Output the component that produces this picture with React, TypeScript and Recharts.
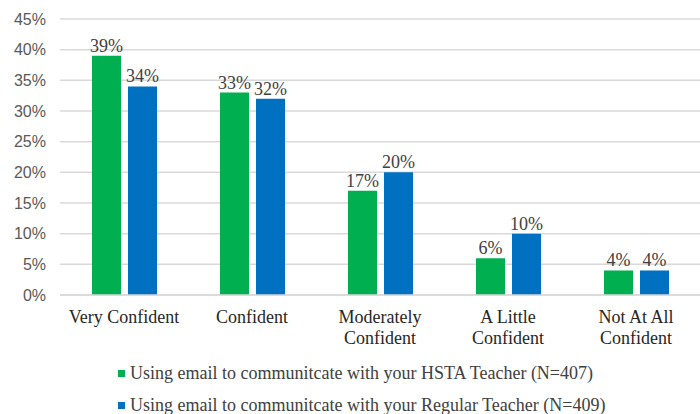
import { BarChart, Bar, XAxis, YAxis, CartesianGrid, LabelList, Legend } from 'recharts'

const categories = ['Very Confident', 'Confident', 'Moderately\nConfident', 'A Little\nConfident', 'Not At All\nConfident']
const hstaValues = [39, 33, 17, 6, 4]
const regularValues = [34, 32, 20, 10, 4]
const yTicks = [0, 5, 10, 15, 20, 25, 30, 35, 40, 45]
const seriesNames = [
  'Using email to communitcate with your HSTA Teacher (N=407)',
  'Using email to communitcate with your Regular Teacher (N=409)',
]

const GREEN = '#00b050'
const BLUE = '#0070c0'
const SERIF = 'Liberation Serif, DejaVu Serif, serif'

const data = categories.map((c, i) => ({
  name: c,
  hsta: hstaValues[i],
  regular: regularValues[i],
}))

// category labels can wrap onto two lines
function CategoryTick({ x, y, payload }: any) {
  const lines = String(payload.value).split('\n')
  return (
    <text x={x} y={y} textAnchor="middle" fill="#262626" fontSize={18} style={{ fontFamily: SERIF }}>
      {lines.map((ln, i) => (
        <tspan key={i} x={x} dy={i === 0 ? 20 : 21}>{ln}</tspan>
      ))}
    </text>
  )
}

function LegendBox() {
  const colors = [GREEN, BLUE]
  return (
    <div style={{ height: 79, paddingTop: 22, paddingLeft: 118, boxSizing: 'border-box', fontFamily: SERIF, fontSize: 18, color: '#404040' }}>
      {seriesNames.map((n, i) => (
        <div key={i} style={{ height: 32, lineHeight: '32px', display: 'flex', alignItems: 'center', textAlign: 'left' }}>
          <span style={{ width: 7, height: 7, background: colors[i], display: 'inline-block', marginRight: 5 }} />
          {n}
        </div>
      ))}
    </div>
  )
}

export default function App() {
  return (
    <div style={{ position: 'absolute', left: 0, top: 0, width: 700, height: 414, background: '#fff' }}>
      <BarChart
        width={700}
        height={414}
        data={data}
        margin={{ top: 19, right: 0, bottom: 0, left: 0 }}
        barSize={29}
        barGap={7}
      >
        <CartesianGrid vertical={false} stroke="#d9d9d9" strokeWidth={1.5} />
        <XAxis
          dataKey="name"
          height={40}
          tickLine={false}
          axisLine={{ stroke: '#d9d9d9', strokeWidth: 1.5 }}
          tick={<CategoryTick />}
          interval={0}
        />
        <YAxis
          width={60}
          domain={[0, 45]}
          ticks={yTicks}
          tickFormatter={(v) => `${v}%`}
          axisLine={false}
          tickLine={false}
          tickMargin={8}
          tick={{ fill: '#595959', fontSize: 16, fontFamily: 'Liberation Sans, Arial, sans-serif' }}
        />
        <Legend verticalAlign="bottom" align="left" content={() => <LegendBox />} />
        <Bar dataKey="hsta" fill={GREEN} isAnimationActive={false}>
          <LabelList dataKey="hsta" position="top" offset={4} formatter={(v: any) => `${v}%`} fill="#404040" fontSize={18} style={{ fontFamily: SERIF }} />
        </Bar>
        <Bar dataKey="regular" fill={BLUE} isAnimationActive={false}>
          <LabelList dataKey="regular" position="top" offset={4} formatter={(v: any) => `${v}%`} fill="#404040" fontSize={18} style={{ fontFamily: SERIF }} />
        </Bar>
      </BarChart>
    </div>
  )
}
